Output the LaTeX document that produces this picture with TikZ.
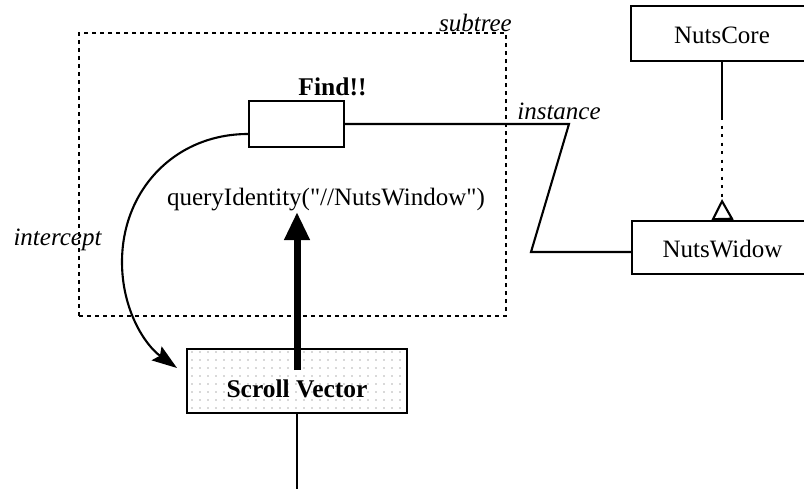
\documentclass[tikz,border=0pt]{standalone}
\usepackage{fontspec}
\setmainfont{Liberation Serif}[Ligatures=TeXOff]
\usetikzlibrary{arrows.meta,patterns.meta,calc}
\begin{document}
\begin{tikzpicture}[x=1pt,y=-1pt,
  txt/.style={font=\fontsize{25}{30}\selectfont},
  bft/.style={font=\fontsize{25.5}{30}\selectfont\bfseries},
  itl/.style={font=\fontsize{25}{30}\selectfont\itshape},
  box/.style={draw, line width=2.2pt, inner sep=0pt, txt},
  conn/.style={line width=2.1pt},
  frame/.style={draw, line width=1.8pt, dash pattern=on 4pt off 4pt},
  dotline/.style={line width=2.1pt, dash pattern=on 3pt off 5.5pt},
  dotfill/.style={pattern={Dots[distance=8pt,radius=0.7pt]}, pattern color=black!65}
]
\useasboundingbox (0,0) rectangle (804,488);
\clip (0,0) rectangle (804,488);

% subtree region
\node[frame, minimum width=427pt, minimum height=283pt] (subtree) at (292.5,174.5) {};
\node[itl, anchor=base east, inner sep=0pt] (subtreelbl) at (512,31) {subtree};

% the widget found inside the subtree
\node[box, minimum width=95pt, minimum height=46pt] (find) at (296.5,124) {};
\node[bft, anchor=base, inner sep=0pt] (findlbl) at (332.5,95) {Find!!};
\node[txt, anchor=base, inner sep=0pt] (query) at (326,205) {queryIdentity("//NutsWindow")};

% scroll vector
\node[box, dotfill, minimum width=220pt, minimum height=64pt,
      text height=32pt, text depth=0pt, bft] (scroll) at (297,381) {Scroll Vector};

% classes on the right
\node[box, minimum width=182pt, minimum height=55pt,
      text height=19pt, text depth=0pt] (core) at (722,33.5) {NutsCore};
\node[box, minimum width=181pt, minimum height=53pt,
      text height=19pt, text depth=0pt] (widow) at (722.5,247.5) {NutsWidow};

% labels
\node[itl, anchor=base, inner sep=0pt] (interceptlbl) at (57.5,245) {intercept};
\node[itl, anchor=base, inner sep=0pt] (instancelbl) at (559,119) {instance};

% instance link
\coordinate (bend1) at (569,124);
\coordinate (bend2) at (531,252);
\draw[conn] (find.east) -- (bend1) -- (bend2) -- (bend2 -| widow.west);

% generalisation
\coordinate (inhbreak) at (722,117);
\coordinate (apex) at (722,199);
\draw[conn] (core.south) -- (inhbreak);
\draw[dotline] (inhbreak) -- (apex);
\draw[conn, -{Triangle[open,length=21pt,width=22pt]}] (widow.north) -- (apex);

% intercept
\draw[conn, -{Stealth[length=25pt,width=17pt,inset=4pt]}]
  ($(find.west)+(0,10)$) .. controls (175,134) and (122,190) .. (122,262)
  .. controls (122,310) and (145,345) .. (177,368);

% query call
\coordinate (push) at ($(scroll.center)+(0,-11)$);
\coordinate (pushtip) at (297,212);
\draw[line width=7pt, -{Triangle[length=28pt,width=24pt]}] (push) -- (pushtip);

% downward link
\coordinate (down) at (297,495);
\draw[conn] (scroll.south) -- (down);
\end{tikzpicture}
\end{document}
